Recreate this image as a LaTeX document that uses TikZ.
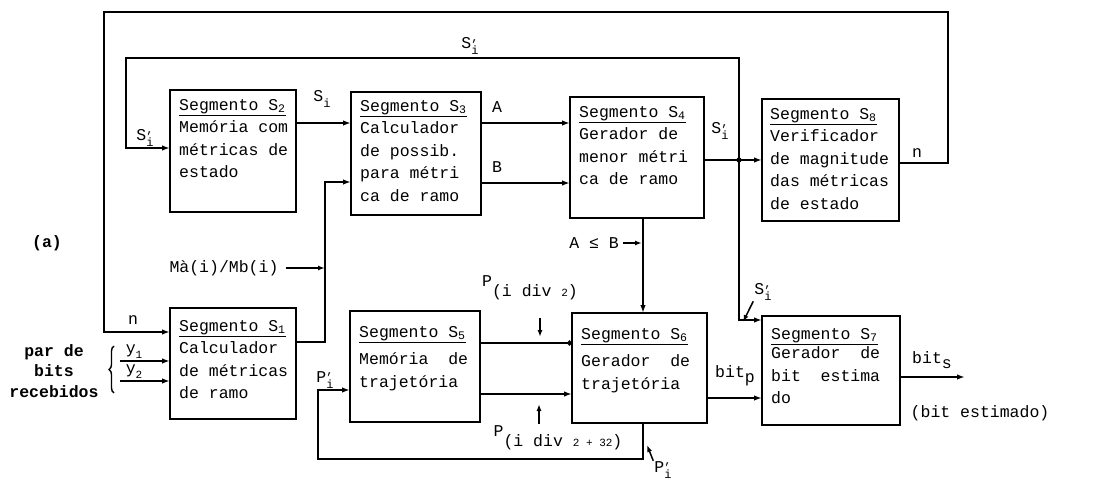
\documentclass[tikz,border=0pt]{standalone}
\usepackage{fontspec}
\setmainfont{Liberation Mono}
\usetikzlibrary{arrows.meta,decorations.pathreplacing}
\newcommand\seg[1]{\underline{Segmento S\textsubscript{#1}}}
\newcommand\ssub[2]{#1\raisebox{-0.55ex}{\fontsize{11}{11}\selectfont #2}}
\newcommand\spr[1]{#1\rlap{\raisebox{0.9ex}{\fontsize{12}{12}\selectfont ,}}\raisebox{-0.6ex}{\fontsize{12}{12}\selectfont i}}
\tikzset{
  blk/.style={draw, line width=2.1pt, inner sep=0pt, outer sep=0pt, anchor=north west},
  txt/.style={font=\fontsize{16.5}{22.5}\selectfont, align=left, inner sep=0pt, anchor=north west},
  lbl/.style={font=\fontsize{16.5}{20}\selectfont, inner sep=1pt, align=center},
  arr/.style={line width=2.1pt, -{Latex[length=8pt,width=5.5pt]}},
  sarr/.style={line width=1.5pt, -{Latex[length=7pt,width=5pt]}},
  carr/.style={line width=2.1pt, -{Circle[open,length=5pt,width=5pt]}}
}
\begin{document}
\begin{tikzpicture}[x=1pt,y=-1pt]
\useasboundingbox (0,0) rectangle (1102,486);
% boxes
\node[blk, minimum width=126pt, minimum height=122pt] (s2) at (170,90) {};
\node[blk, minimum width=130pt, minimum height=123pt] (s3) at (351,92) {};
\node[blk, minimum width=134pt, minimum height=121pt] (s4) at (570,97) {};
\node[blk, minimum width=137pt, minimum height=122pt] (s8) at (762,99) {};
\node[blk, minimum width=126pt, minimum height=111pt] (s1) at (170,308) {};
\node[blk, minimum width=130pt, minimum height=111pt] (s5) at (350,311) {};
\node[blk, minimum width=135pt, minimum height=110pt] (s6) at (572,313) {};
\node[blk, minimum width=138pt, minimum height=109pt] (s7) at (762,316) {};
% texts
\node[txt] (t2) at ([xshift=9pt,yshift=-9pt]s2.north west) {\seg{2}\\Memória com\\métricas de\\estado};
\node[txt] (t3) at ([xshift=9pt,yshift=-8pt]s3.north west) {\seg{3}\\Calculador\\de possib.\\para métri\\ca de ramo};
\node[txt] (t4) at ([xshift=9pt,yshift=-9pt]s4.north west) {\seg{4}\\Gerador de\\menor métri\\ca de ramo};
\node[txt] (t8) at ([xshift=8pt,yshift=-9pt]s8.north west) {\seg{8}\\Verificador\\de magnitude\\das métricas\\de estado};
\node[txt] (t1) at ([xshift=9pt,yshift=-12pt]s1.north west) {\seg{1}\\Calculador\\de métricas\\de ramo};
\node[txt] (t5) at ([xshift=9pt,yshift=-15pt]s5.north west) {\seg{5}\\[5pt]Memória\ \ de\\trajetória};
\node[txt] (t6) at ([xshift=9pt,yshift=-15pt]s6.north west) {\seg{6}\\[5pt]Gerador\ \ de\\trajetória};
\node[txt] (t7) at ([xshift=9pt,yshift=-12pt]s7.north west) {\seg{7}\\[-3pt]Gerador\ \ de\\bit\ \ estima\\do};
% port coordinates
\coordinate (p23) at (300,123);
\coordinate (pA) at (500,123);
\coordinate (pB) at (500,183);
\coordinate (p48) at (720,160);
\coordinate (j1) at (739,160);
\coordinate (top1) at (739,58);
\coordinate (lft1) at (126,58);
\coordinate (in2) at (126,148);
\coordinate (c7) at (739,320);
\coordinate (n8) at (948,163);
\coordinate (top2) at (948,12);
\coordinate (lft2) at (104,12);
\coordinate (in1) at (104,332);
\coordinate (o1) at (325,342);
\coordinate (o1u) at (325,182);
\coordinate (y1s) at (120,361);
\coordinate (y2s) at (120,381);
\coordinate (p56a) at (500,343);
\coordinate (p56b) at (500,394);
\coordinate (fb1) at (643,459);
\coordinate (fb2) at (318,459);
\coordinate (fb3) at (318,390);
\coordinate (p67) at (730,398);
\coordinate (outs) at (965,377);
% connectors
\draw[arr] (s2.east |- p23) -- (s3.west |- p23);
\draw[arr] (s3.east |- pA) -- (s4.west |- pA);
\draw[arr] (s3.east |- pB) -- (s4.west |- pB);
\draw[arr] (s4.east |- p48) -- (s8.west |- p48);
\fill (j1) circle (2.6pt);
\draw[arr] (j1) -- (top1) -- (lft1) -- (in2) -- (s2.west |- in2);
\draw[arr] (j1) -- (c7) -- (s7.west |- c7);
\draw[arr] (s8.east |- n8) -- (n8) -- (top2) -- (lft2) -- (in1) -- (s1.west |- in1);
\draw[arr] (s1.east |- o1) -- (o1) -- (o1u) -- (s3.west |- o1u);
\draw[arr] (y1s) -- (s1.west |- y1s);
\draw[arr] (y2s) -- (s1.west |- y2s);
\draw[arr] (s4.south -| fb1) -- (s6.north -| fb1);
\draw[carr] (s5.east |- p56a) -- (s6.west |- p56a);
\draw[arr] (s5.east |- p56b) -- (s6.west |- p56b);
\draw[arr] (s6.south -| fb1) -- (fb1) -- (fb2) -- (fb3) -- (s5.west |- fb3);
\draw[arr] (s6.east |- p67) -- (s7.west |- p67);
\draw[arr] (s7.east |- outs) -- (outs);
% labels
\node[lbl] (lSi) at (322,99) {S\raisebox{-0.6ex}{\fontsize{12}{12}\selectfont i}};
\node[lbl] (lSp1) at (470,46) {\spr{S}};
\node[lbl] (lSp2) at (145,138) {\spr{S}};
\node[lbl] (lA) at (497,107) {A};
\node[lbl] (lB) at (497,167) {B};
\node[lbl] (lSp3) at (720,131) {\spr{S}};
\node[lbl] (ln8) at (917,153) {n};
\node[lbl] (ln1) at (133,320) {n};
\node[lbl] (ly1) at (134,352) {\ssub{y}{1}};
\node[lbl] (ly2) at (134,372) {\ssub{y}{2}};
\node[lbl, align=center, font=\fontsize{16.5}{20.5}\selectfont\bfseries] (lpar) at (54,371) {par de\\bits\\recebidos};
\draw[line width=1.4pt, decorate, decoration={brace, amplitude=5pt}] (114,393) -- (114,346);
\node[lbl, font=\fontsize{16.5}{20}\selectfont\bfseries] (la) at (47,243) {(a)};
\node[lbl] (lM) at (224,268) {Mà(i)/Mb(i)};
\coordinate (mM) at (325,268);
\draw[sarr] (lM.east) ++(6,0) -- (mM);
\node[lbl] (lPp1) at (325,380) {\spr{P}};
\node[lbl] (lP1) at (530,288) {P\raisebox{-1.2ex}{(i div {\fontsize{11}{11}\selectfont 2})}};
\coordinate (a1s) at (540,318);
\coordinate (a1e) at (540,337);
\draw[sarr] (a1s) -- (a1e);
\coordinate (a2s) at (539,424);
\coordinate (a2e) at (539,404);
\draw[sarr] (a2s) -- (a2e);
\node[lbl] (lP2) at (558,438) {P\raisebox{-1.2ex}{(i div {\fontsize{11}{11}\selectfont 2 + 32})}};
\node[lbl] (lPp2) at (663,470) {\spr{P}};
\coordinate (a3e) at (647,445);
\draw[sarr] (lPp2.north west) -- (a3e);
\node[lbl] (lAB) at (594,243) {A ≤ B};
\coordinate (abe) at (642,243);
\draw[sarr] (lAB.east) ++(3,0) -- (abe);
\node[lbl] (lbp) at (735,376) {bit\raisebox{-0.6ex}{p}};
\node[lbl] (lSp4) at (763,292) {\spr{S}};
\coordinate (a4e) at (743,322);
\draw[sarr] (lSp4.south west) -- (a4e);
\node[lbl] (lbs) at (932,360) {bit\raisebox{-0.6ex}{s}};
\node[lbl] (lbe) at (980,413) {(bit estimado)};
\end{tikzpicture}
\end{document}
